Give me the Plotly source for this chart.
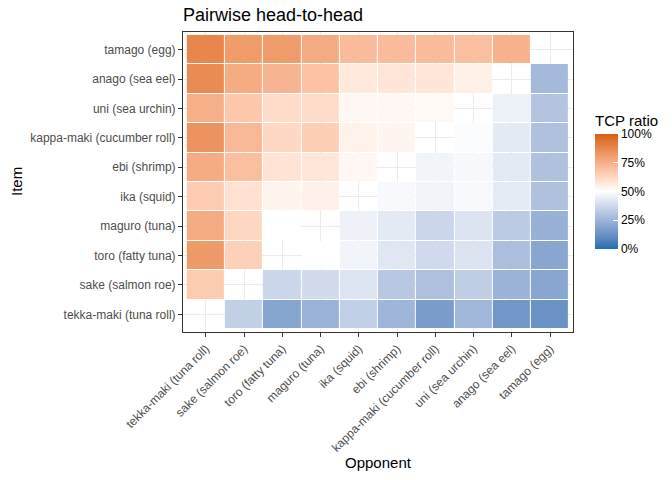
import plotly.graph_objects as go

# items, bottom-to-top on the y axis and left-to-right on the x axis
items = ["tekka-maki (tuna roll)", "sake (salmon roe)", "toro (fatty tuna)", "maguro (tuna)",
         "ika (squid)", "ebi (shrimp)", "kappa-maki (cucumber roll)", "uni (sea urchin)",
         "anago (sea eel)", "tamago (egg)"]

# TCP ratio of each item (row) against each opponent (column), None = same item
tekka_row = [None, 0.346, 0.196, 0.243, 0.343, 0.254, 0.171, 0.260, 0.147, 0.130]
sake_row = [0.660, None, 0.367, 0.384, 0.416, 0.320, 0.293, 0.337, 0.247, 0.199]
toro_row = [0.818, 0.643, None, 0.500, 0.466, 0.422, 0.380, 0.410, 0.286, 0.199]
maguro_row = [0.763, 0.625, 0.500, None, 0.457, 0.431, 0.368, 0.410, 0.330, 0.240]
ika_row = [0.661, 0.594, 0.532, 0.543, None, 0.480, 0.463, 0.480, 0.435, 0.296]
ebi_row = [0.760, 0.700, 0.586, 0.577, 0.524, None, 0.466, 0.478, 0.431, 0.295]
kappa_row = [0.840, 0.721, 0.622, 0.650, 0.542, 0.531, None, 0.490, 0.431, 0.295]
uni_row = [0.747, 0.675, 0.608, 0.608, 0.524, 0.524, 0.518, None, 0.456, 0.307]
anago_row = [0.867, 0.760, 0.733, 0.689, 0.571, 0.577, 0.577, 0.547, None, 0.269]
tamago_row = [0.882, 0.815, 0.815, 0.764, 0.714, 0.714, 0.712, 0.700, 0.743, None]

z = [tekka_row, sake_row, toro_row, maguro_row, ika_row,
     ebi_row, kappa_row, uni_row, anago_row, tamago_row]

legend_ticks = [0, 0.25, 0.5, 0.75, 1]
legend_labels = ["0%", "25%", "50%", "75%", "100%"]


# diverging palette interpolated in Lab space, like ggplot's gradient2
def to_lab(h):
    rgb = [int(h[i:i + 2], 16) / 255 for i in (1, 3, 5)]
    lin = [c / 12.92 if c <= 0.04045 else ((c + 0.055) / 1.055) ** 2.4 for c in rgb]
    x = (0.4124 * lin[0] + 0.3576 * lin[1] + 0.1805 * lin[2]) / 0.95047
    y = 0.2126 * lin[0] + 0.7152 * lin[1] + 0.0722 * lin[2]
    zz = (0.0193 * lin[0] + 0.1192 * lin[1] + 0.9505 * lin[2]) / 1.08883
    f = lambda t: t ** (1 / 3) if t > 0.008856 else 7.787 * t + 16 / 116
    return [116 * f(y) - 16, 500 * (f(x) - f(y)), 200 * (f(y) - f(zz))]


def from_lab(lab):
    fy = (lab[0] + 16) / 116
    fx = fy + lab[1] / 500
    fz = fy - lab[2] / 200
    g = lambda t: t ** 3 if t ** 3 > 0.008856 else (t - 16 / 116) / 7.787
    x, y, zz = g(fx) * 0.95047, g(fy), g(fz) * 1.08883
    lin = [3.2406 * x - 1.5372 * y - 0.4986 * zz,
           -0.9689 * x + 1.8758 * y + 0.0415 * zz,
           0.0557 * x - 0.2040 * y + 1.0570 * zz]
    out = []
    for c in lin:
        c = 12.92 * c if c <= 0.0031308 else 1.055 * c ** (1 / 2.4) - 0.055
        out.append(int(round(min(max(c, 0), 1) * 255)))
    return "rgb(%d,%d,%d)" % tuple(out)


low, mid, high = to_lab("#1F6FB0"), to_lab("#FFFFFF"), to_lab("#D6600E")
scale = []
for i in range(21):
    v = i / 20
    if v < 0.5:
        t, end = (0.5 - v) / 0.5, low
    else:
        t, end = (v - 0.5) / 0.5, high
    scale.append([v, from_lab([m + (e - m) * t for m, e in zip(mid, end)])])

font = "Liberation Sans, Arial, sans-serif"

fig = go.Figure(go.Heatmap(
    x=items, y=items, z=z, zmin=0, zmax=1, colorscale=scale,
    xgap=1, ygap=1, hoverongaps=False,
    colorbar=dict(
        title=dict(text="TCP ratio", side="top", font=dict(size=15, color="black", family=font)),
        x=(595 - 183) / 390, xanchor="left", xpad=0,
        y=(332 - 249) / 300, yanchor="bottom", ypad=0,
        lenmode="pixels", len=137, thickness=23, outlinewidth=0,
        tickvals=legend_ticks, ticktext=legend_labels,
        ticks="inside", ticklen=5, tickcolor="white",
        tickfont=dict(size=12, color="black", family=font),
    ),
))

axis = dict(
    type="category", range=[-0.6, 9.6], showgrid=True, gridcolor="#EBEBEB", gridwidth=1,
    zeroline=False, showline=True, mirror=True, linecolor="#333333", linewidth=1,
    ticks="outside", ticklen=4, tickcolor="#333333",
    tickfont=dict(size=12, color="#4D4D4D", family=font),
)

fig.update_layout(
    width=672, height=480,
    margin=dict(l=183, r=99, t=32, b=148),
    paper_bgcolor="white", plot_bgcolor="white",
    font=dict(family=font),
    title=dict(text="Pairwise head-to-head", x=183 / 672, xanchor="left",
               y=1 - 15 / 480, yanchor="middle", font=dict(size=18, color="black", family=font)),
    xaxis=dict(axis, tickangle=-45),
    yaxis=dict(axis),
    annotations=[
        dict(text="Opponent", xref="paper", x=0.5, yref="paper", y=-(463 - 332) / 300,
             showarrow=False, xanchor="center", yanchor="middle",
             font=dict(size=15, color="black", family=font)),
        dict(text="Item", xref="paper", x=-(183 - 16) / 390, yref="paper", y=0.5,
             showarrow=False, textangle=-90, xanchor="center", yanchor="middle",
             font=dict(size=15, color="black", family=font)),
    ],
)

# drop the page's default body margin so the figure sits at the window corner
fig.write_html("out.html", config={"displayModeBar": False},
               post_script="document.body.style.margin = '0px';")
